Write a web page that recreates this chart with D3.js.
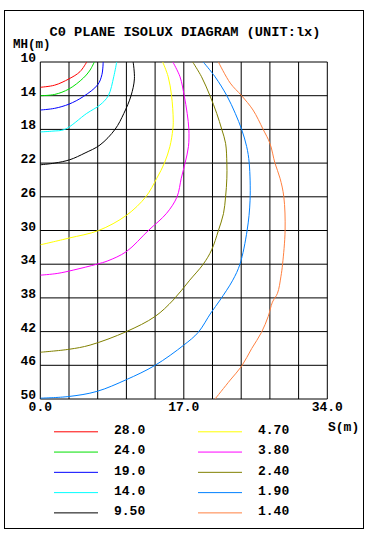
<!DOCTYPE html>
<html>
<head>
<meta charset="utf-8">
<script src="https://cdn.jsdelivr.net/npm/d3@7"></script>
<style>
  body { margin: 0; background: #fff; }
  text { font-family: "Courier New", "Liberation Mono", monospace; font-weight: bold; fill: #000; }
</style>
</head>
<body>
<div id="isolux"></div>
<script>
// isolux levels (lx) and their colours
const isolux_levels = ['28.0', '24.0', '19.0', '14.0', '9.50', '4.70', '3.80', '2.40', '1.90', '1.40']
const isolux_colors = ['#ff0000', '#00e000', '#0000ff', '#00ffff', '#000000',
                       '#ffff00', '#ff00ff', '#808000', '#0080ff', '#ff8040']

// tick labels
const s_ticks = [0, 17, 34]
const mh_ticks = [10, 14, 18, 22, 26, 30, 34, 38, 42, 46, 50]
const s_grid = d3.range(0, 34.01, 3.4)

// curves, [S (m), MH (m)]
const curve_28 = [[0,13.0],[1.7,12.75],[3.4,12.0],[4.7,11.15],[5.5,10]]
const curve_24 = [[0,14.0],[1.7,13.85],[3.4,13.2],[5.1,11.9],[5.9,10.95],[6.4,10]]
const curve_19 = [[0,15.7],[1.7,15.5],[3.4,15.0],[5.1,14.1],[6.8,12.7],[7.3,11.5],[7.45,10]]
const curve_14 = [[0,18.3],[1.5,18.2],[2.9,18.0],[5.5,16.1],[7.07,15.1],[8.06,14],[8.7,11.75],[9.05,10]]
const curve_950 = [[0,22.2],[1.7,22.0],[3.5,21.6],[5.3,20.8],[7.07,19.85],[8.85,18],[9.9,16.1],
                   [10.75,14],[11.15,12],[11.0,10]]
const curve_470 = [[0,31.7],[3.4,30.9],[6.9,30],[10.2,28.2],[12.5,26],[13.8,23.8],[14.7,22],[15.35,20.05],
                   [15.7,18],[15.75,16.9],[15.55,14],[15.15,11.75],[14.5,10]]
const curve_380 = [[0,35.3],[2,35.1],[3.9,34.7],[6.7,34],[8,33.6],[10.2,32.5],[12.8,30],[14.97,27.95],
                   [16.2,26],[16.7,23.8],[17.15,22],[17.55,20.05],[17.6,18],[17.4,16.1],[17.05,14],
                   [16.55,11.75],[15.7,10]]
const curve_240 = [[0,44.45],[3.4,44.1],[5.9,43.6],[10.2,42],[13.6,40.2],[15.75,38.25],[17.7,35.9],[19.3,34],
                   [20.3,32.3],[21.1,30],[21.7,28],[21.95,26],[22.1,23.8],[22.1,22],[21.95,19.65],[21.5,18],
                   [20.9,16.1],[20.1,14],[19.1,11.75],[18.05,10]]
const curve_190 = [[0,49.9],[3.4,49.7],[6.7,49.1],[10.2,47.7],[13.6,46],[17.0,43.6],[18.7,42.1],[20.2,39.8],
                   [21.3,38.25],[22.8,35.9],[23.65,34],[24.5,30],[24.85,26.4],[24.75,22],[24.45,20.05],
                   [23.85,18],[23.1,16.1],[22.1,14],[20.7,11.75],[19.3,10]]
const curve_140 = [[20.7,50],[22.5,47.75],[23.85,46.1],[25.05,44],[26.2,42.1],[27.0,40.2],[27.5,38.5],
                   [28.1,37.45],[28.5,35.5],[28.7,34],[29.0,30],[28.85,26],[28.4,23.8],[27.8,22],[27.2,19.65],
                   [26.4,18],[25.2,15.7],[23.85,14],[22.5,12.5],[21.1,10]]
const isolux_curves = [curve_28, curve_24, curve_19, curve_14, curve_950,
                       curve_470, curve_380, curve_240, curve_190, curve_140]

const width = 369
const height = 533
const plot = { left: 40.3, right: 327.3, top: 62, bottom: 399 }

const svg = d3.select('#isolux')
    .append('svg')
    .attr('width', width)
    .attr('height', height)

const x = d3.scaleLinear().domain([0, 34]).range([plot.left, plot.right])
const y = d3.scaleLinear().domain([10, 50]).range([plot.top, plot.bottom])

// outer frame
svg.append('rect')
    .attr('x', 4.5).attr('y', 10.5)
    .attr('width', 359).attr('height', 518)
    .attr('fill', 'none').attr('stroke', '#000')

svg.append('text')
    .attr('x', 185).attr('y', 36)
    .attr('text-anchor', 'middle')
    .attr('font-size', '13.7px')
    .text('C0 PLANE ISOLUX DIAGRAM (UNIT:lx)')

svg.append('text')
    .attr('x', 13).attr('y', 48)
    .attr('font-size', '12.5px')
    .text('MH(m)')

// grid
svg.append('g')
    .selectAll('line')
    .data(s_grid)
    .enter()
    .append('line')
    .attr('x1', d => x(d)).attr('x2', d => x(d))
    .attr('y1', plot.top).attr('y2', plot.bottom)
    .attr('stroke', '#000')

svg.append('g')
    .selectAll('line')
    .data(mh_ticks)
    .enter()
    .append('line')
    .attr('x1', plot.left).attr('x2', plot.right)
    .attr('y1', d => y(d)).attr('y2', d => y(d))
    .attr('stroke', '#000')

// tick labels
svg.append('g')
    .selectAll('text')
    .data(mh_ticks)
    .enter()
    .append('text')
    .attr('x', 36)
    .attr('y', d => y(d))
    .attr('text-anchor', 'end')
    .attr('font-size', '13px')
    .text(d => d)

svg.append('g')
    .selectAll('text')
    .data(s_ticks)
    .enter()
    .append('text')
    .attr('x', d => x(d))
    .attr('y', 411)
    .attr('text-anchor', 'middle')
    .attr('font-size', '13px')
    .text(d => d.toFixed(1))

svg.append('text')
    .attr('x', 328).attr('y', 431)
    .attr('font-size', '13px')
    .text('S(m)')

// curves
svg.append('clipPath')
    .attr('id', 'plot-clip')
    .append('rect')
    .attr('x', plot.left).attr('y', plot.top)
    .attr('width', plot.right - plot.left).attr('height', plot.bottom - plot.top)

const line = d3.line()
    .x(d => x(d[0]))
    .y(d => y(d[1]))
    .curve(d3.curveCatmullRom)

svg.append('g')
    .attr('clip-path', 'url(#plot-clip)')
    .selectAll('path')
    .data(isolux_curves)
    .enter()
    .append('path')
    .attr('d', line)
    .attr('fill', 'none')
    .attr('stroke', (d, i) => isolux_colors[i])
    .attr('stroke-width', 1)

// legend, two columns of five
const legend = svg.append('g')
    .selectAll('g')
    .data(isolux_levels)
    .enter()
    .append('g')
    .attr('transform', (d, i) =>
        'translate(' + (i < 5 ? 54 : 198) + ',' + (431.8 + (i % 5) * 20.27) + ')')

legend.append('line')
    .attr('x1', 0).attr('x2', 44)
    .attr('y1', 0).attr('y2', 0)
    .attr('stroke', d => isolux_colors[isolux_levels.indexOf(d)])

legend.append('text')
    .attr('x', 60).attr('y', 2.2)
    .attr('font-size', '13px')
    .text(d => d)
</script>
</body>
</html>
